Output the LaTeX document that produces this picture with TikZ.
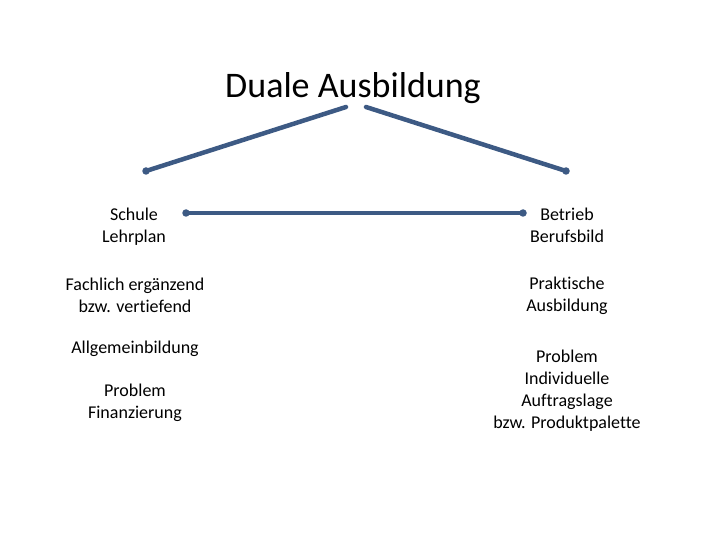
\documentclass[tikz,border=0pt]{standalone}
\usepackage{fontspec}
\setmainfont[Ligatures={NoCommon}]{Carlito}
\definecolor{linecol}{HTML}{3D5A84}
\tikzset{
  lbl/.style={align=center, inner sep=0pt, font=\fontsize{18}{22}\selectfont},
  ttl/.style={inner sep=0pt, font=\fontsize{36}{40}\selectfont},
  conn/.style={draw=linecol, line width=4.5pt, line cap=round},
  enddot/.style={circle, fill=linecol, inner sep=0pt, minimum size=7.5pt}
}
\begin{document}
\begin{tikzpicture}[x=1pt,y=-1pt]
\useasboundingbox (0,0) rectangle (720,540);
\node[ttl] (title) at (353,88) {Duale Ausbildung};
\coordinate (tl) at (346,107);
\coordinate (tr) at (366,107);
\coordinate (bl) at (146,171);
\coordinate (br) at (566,171);
\coordinate (hl) at (186,213);
\coordinate (hr) at (523,213);
\node[lbl] (schule) at (134,227) {Schule\\Lehrplan};
\node[lbl] (fach) at (135,295) {Fachlich ergänzend\\bzw. vertiefend};
\node[lbl] (allg) at (135,349) {Allgemeinbildung};
\node[lbl] (probl) at (135,403) {Problem\\Finanzierung};
\node[lbl] (betrieb) at (567,225) {Betrieb\\Berufsbild};
\node[lbl] (prakt) at (567,296) {Praktische\\Ausbildung};
\node[lbl] (probr) at (567,391) {Problem\\Individuelle\\Auftragslage\\bzw. Produktpalette};
\draw[conn] (tl) -- (bl);
\draw[conn] (tr) -- (br);
\draw[conn] (hl) -- (hr);
\foreach \p in {bl,br,hl,hr} \node[enddot] at (\p) {};
\end{tikzpicture}
\end{document}
